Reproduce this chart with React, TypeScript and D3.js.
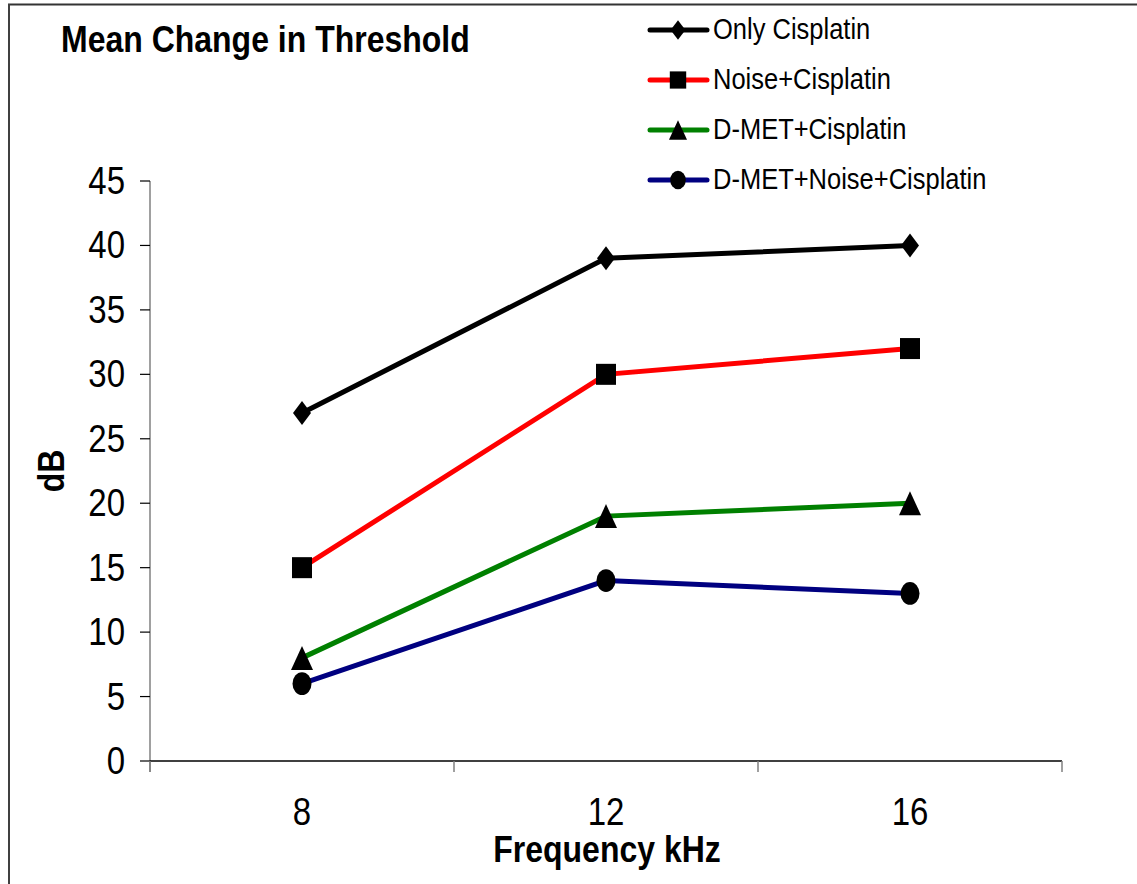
import React from "react";
import * as d3 from "d3";

const categories = ["8", "12", "16"];
const seriesNames = ["Only Cisplatin", "Noise+Cisplatin", "D-MET+Cisplatin", "D-MET+Noise+Cisplatin"];
const onlyCisplatin = [27, 39, 40];
const noiseCisplatin = [15, 30, 32];
const dmetCisplatin = [8, 19, 20];
const dmetNoiseCisplatin = [6, 14, 13];
const seriesColors = ["#000000", "#FF0000", "#008000", "#000080"];
const seriesMarkers = ["diamond", "square", "triangle", "circle"];
const yTicks = [0, 5, 10, 15, 20, 25, 30, 35, 40, 45];

const W = 1137;
const H = 884;
const FONT = "'Liberation Sans', Arial, Helvetica, sans-serif";
const SY = 1.15;

function Marker({ type, cx, cy, s }: { type: string; cx: number; cy: number; s: number }) {
  if (type === "diamond") {
    const w = 9 * s, h = 12 * s;
    return <path d={`M${cx},${cy - h}L${cx + w},${cy}L${cx},${cy + h}L${cx - w},${cy}Z`} fill="#000" />;
  }
  if (type === "square") {
    const w = 10 * s, h = 10.5 * s;
    return <rect x={cx - w} y={cy - h} width={2 * w} height={2 * h} fill="#000" />;
  }
  if (type === "triangle") {
    const w = 11 * s, h = 12 * s;
    return <path d={`M${cx},${cy - h}L${cx + w},${cy + h}L${cx - w},${cy + h}Z`} fill="#000" />;
  }
  return <ellipse cx={cx} cy={cy} rx={9.5 * s} ry={9.5 * s * 1.2} fill="#000" />;
}

function T({
  x,
  y,
  size,
  bold,
  anchor,
  children,
}: {
  x: number;
  y: number;
  size: number;
  bold?: boolean;
  anchor?: string;
  children: React.ReactNode;
}) {
  return (
    <text
      transform={`translate(${x},${y}) scale(1,${SY})`}
      fontSize={size}
      fontWeight={bold ? "bold" : "normal"}
      textAnchor={anchor || "start"}
      fill="#000"
    >
      {children}
    </text>
  );
}

export default function App() {
  const x = d3.scaleBand<string>().domain(categories).range([150, 1062]).padding(0);
  const y = d3.scaleLinear().domain([0, 45]).range([761, 181]);
  const cx = (c: string) => (x(c) as number) + x.bandwidth() / 2;
  const allSeries = [onlyCisplatin, noiseCisplatin, dmetCisplatin, dmetNoiseCisplatin];
  const line = d3
    .line<number>()
    .x((_, i) => cx(categories[i]))
    .y((d) => y(d));
  const tickXs = [150, ...categories.map((c) => (x(c) as number) + x.bandwidth())];
  const legendY = [30, 80, 130, 180];

  return (
    <svg
      width={W}
      height={H}
      style={{ position: "absolute", left: 0, top: 0, display: "block", background: "#fff" }}
      fontFamily={FONT}
    >
      <rect x={0} y={0} width={W} height={H} fill="#fff" />
      {/* frame */}
      <line x1={8} y1={4.5} x2={W} y2={4.5} stroke="#333" strokeWidth={2} />
      <line x1={9} y1={4} x2={9} y2={H} stroke="#404040" strokeWidth={2} />

      {/* title */}
      <T x={61} y={52} size={32} bold>
        Mean Change in Threshold
      </T>

      {/* y axis */}
      <line x1={150} y1={y(45)} x2={150} y2={772} stroke="#808080" strokeWidth={1.5} />
      {yTicks.map((t) => (
        <g key={t}>
          <line x1={140} y1={y(t)} x2={150} y2={y(t)} stroke="#000" strokeWidth={1.2} />
          <T x={125} y={y(t) + 13} size={33} anchor="end">
            {t}
          </T>
        </g>
      ))}

      {/* x axis */}
      <line x1={150} y1={y(0)} x2={1062} y2={y(0)} stroke="#000" strokeWidth={1.5} />
      {tickXs.map((tx, i) => (
        <line key={i} x1={tx} y1={y(0)} x2={tx} y2={772} stroke="#808080" strokeWidth={1.5} />
      ))}
      {categories.map((c) => (
        <T key={c} x={cx(c)} y={825} size={33} anchor="middle">
          {c}
        </T>
      ))}

      {/* axis titles */}
      <T x={607} y={862} size={32} bold anchor="middle">
        Frequency kHz
      </T>
      <text
        transform={`translate(64,471) rotate(-90) scale(1,${SY})`}
        textAnchor="middle"
        fontSize={32}
        fontWeight="bold"
        fill="#000"
      >
        dB
      </text>

      {/* series */}
      {allSeries.map((s, si) => (
        <g key={si}>
          <path d={line(s) || ""} fill="none" stroke={seriesColors[si]} strokeWidth={5} />
          {s.map((v, i) => (
            <Marker key={i} type={seriesMarkers[si]} cx={cx(categories[i])} cy={y(v)} s={1} />
          ))}
        </g>
      ))}

      {/* legend */}
      {seriesNames.map((n, i) => (
        <g key={n}>
          <line
            x1={650}
            y1={legendY[i]}
            x2={707}
            y2={legendY[i]}
            stroke={seriesColors[i]}
            strokeWidth={5}
            strokeLinecap="round"
          />
          <Marker type={seriesMarkers[i]} cx={678} cy={legendY[i]} s={0.82} />
          <T x={713} y={legendY[i] + 9} size={25.5}>
            {n}
          </T>
        </g>
      ))}
    </svg>
  );
}
